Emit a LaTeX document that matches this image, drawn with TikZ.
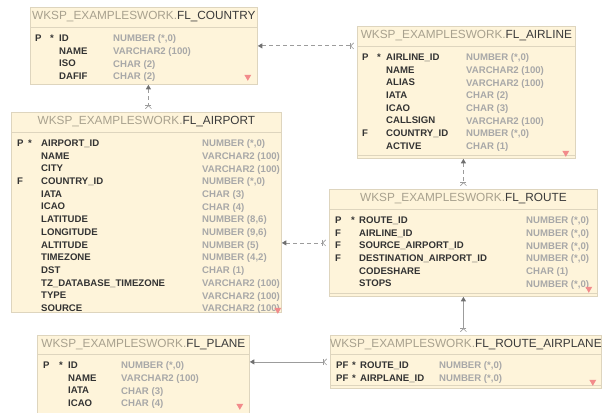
\documentclass[tikz,border=0pt]{standalone}
\usepackage{fontspec}
\setmainfont{Liberation Sans}
\usetikzlibrary{arrows.meta, shapes.geometric}

\definecolor{boxfill}{HTML}{FEF4DA}
\definecolor{boxline}{HTML}{DED5BE}
\definecolor{prefixgray}{HTML}{A8A18E}
\definecolor{titledark}{HTML}{3A3A3A}
\definecolor{namedark}{HTML}{333333}
\definecolor{typegray}{HTML}{A8A8A8}
\definecolor{markred}{HTML}{F28B8B}
\definecolor{linkgray}{HTML}{9C9C9C}
\definecolor{tipgray}{HTML}{707070}

\newcommand{\wksp}{\textcolor{prefixgray}{WKSP\_EXAMPLESWORK.}}

\begin{document}
\begin{tikzpicture}[
    x=1pt, y=-1pt,
    entity/.style={
      draw=boxline,
      fill=boxfill,
      line width=0.8pt,
      anchor=north west,
      inner sep=0pt
    },
    sep/.style={draw=boxline, line width=0.8pt},
    title/.style={font=\fontsize{11.8}{14}\selectfont, text=titledark, inner sep=0pt},
    colname/.style={
      font=\bfseries\fontsize{9.6}{12.7}\selectfont,
      text=namedark,
      align=left,
      anchor=north west,
      inner sep=0pt
    },
    coltype/.style={colname, text=typegray},
    keyname/.style={font=\bfseries\fontsize{9.6}{12.7}\selectfont, text=namedark, anchor=base west, inner sep=0pt},
    marker/.style={regular polygon, regular polygon sides=3, shape border rotate=180,
      fill=markred, inner sep=0pt, minimum size=8pt},
    crowfoot/.tip={Bar[width=6pt,line width=0.6pt,sep=0pt] Straight Barb[reversed,length=3pt,width=6pt,line width=0.6pt]},
    fk/.style={draw=linkgray, line width=0.8pt, dash pattern=on 4pt off 3pt,
      {Triangle[length=4.5pt,width=5pt,color=tipgray]}-{crowfoot}, shorten >=3pt},
    link/.style={fk, solid}
  ]
    \useasboundingbox (0,0) rectangle (612,412);

    % FL_COUNTRY
    \node[entity, minimum width=227pt, minimum height=77pt] (country) at (30,7) {};
    \draw[sep] ([yshift=-20pt]country.north west) -- ([yshift=-20pt]country.north east);
    \node[title] (countryhead) at ([yshift=-10pt]country.north) {\wksp FL\_COUNTRY};
    \node[keyname] (countrykp) at ([xshift=5pt,yshift=-34.5pt]country.north west) {P};
    \node[keyname] (countryks) at ([xshift=20pt,yshift=-34.5pt]country.north west) {*};
    \node[colname] (countrynames) at ([xshift=29pt,yshift=-27.5pt]country.north west) {ID\\NAME\\ISO\\DAFIF};
    \node[coltype] (countrytypes) at ([xshift=83pt,yshift=-27.5pt]country.north west) {NUMBER (*,0)\\VARCHAR2 (100)\\CHAR (2)\\CHAR (2)};
    \node[marker] (countrymark) at ([xshift=-10pt,yshift=8pt]country.south east) {};

    % FL_AIRLINE
    \node[entity, minimum width=218pt, minimum height=132pt] (airline) at (357,26) {};
    \draw[sep] ([yshift=-20pt]airline.north west) -- ([yshift=-20pt]airline.north east);
    \draw[sep] ([yshift=3pt]airline.south west) -- ([yshift=3pt]airline.south east);
    \node[title] (airlinehead) at ([yshift=-10pt]airline.north) {\wksp FL\_AIRLINE};
    \node[keyname] (airlinekp) at ([xshift=5pt,yshift=-34.5pt]airline.north west) {P};
    \node[keyname] (airlineks) at ([xshift=20pt,yshift=-34.5pt]airline.north west) {*};
    \node[keyname] (airlinekf) at ([xshift=5pt,yshift=-110.7pt]airline.north west) {F};
    \node[colname] (airlinenames) at ([xshift=29pt,yshift=-27.5pt]airline.north west)
      {AIRLINE\_ID\\NAME\\ALIAS\\IATA\\ICAO\\CALLSIGN\\COUNTRY\_ID\\ACTIVE};
    \node[coltype] (airlinetypes) at ([xshift=109pt,yshift=-27.5pt]airline.north west)
      {NUMBER (*,0)\\VARCHAR2 (100)\\VARCHAR2 (100)\\CHAR (2)\\CHAR (3)\\VARCHAR2 (100)\\NUMBER (*,0)\\CHAR (1)};
    \node[marker] (airlinemark) at ([xshift=-10pt,yshift=6pt]airline.south east) {};

    % FL_AIRPORT
    \node[entity, minimum width=270pt, minimum height=200pt] (airport) at (11,112) {};
    \draw[sep] ([yshift=-20pt]airport.north west) -- ([yshift=-20pt]airport.north east);
    \node[title] (airporthead) at ([yshift=-10pt]airport.north) {\wksp FL\_AIRPORT};
    \node[keyname] (airportkp) at ([xshift=6pt,yshift=-34.5pt]airport.north west) {P};
    \node[keyname] (airportks) at ([xshift=17pt,yshift=-34.5pt]airport.north west) {*};
    \node[keyname] (airportkf) at ([xshift=6pt,yshift=-72.6pt]airport.north west) {F};
    \node[colname] (airportnames) at ([xshift=30pt,yshift=-27.5pt]airport.north west)
      {AIRPORT\_ID\\NAME\\CITY\\COUNTRY\_ID\\IATA\\ICAO\\LATITUDE\\LONGITUDE\\ALTITUDE\\TIMEZONE\\DST\\TZ\_DATABASE\_TIMEZONE\\TYPE\\SOURCE};
    \node[coltype] (airporttypes) at ([xshift=191pt,yshift=-27.5pt]airport.north west)
      {NUMBER (*,0)\\VARCHAR2 (100)\\VARCHAR2 (100)\\NUMBER (*,0)\\CHAR (3)\\CHAR (4)\\NUMBER (8,6)\\NUMBER (9,6)\\NUMBER (5)\\NUMBER (4,2)\\CHAR (1)\\VARCHAR2 (100)\\VARCHAR2 (100)\\VARCHAR2 (100)};
    \node[marker] (airportmark) at ([xshift=-4pt,yshift=3pt]airport.south east) {};

    % FL_ROUTE
    \node[entity, minimum width=268pt, minimum height=107pt] (route) at (329,189) {};
    \draw[sep] ([yshift=-20pt]route.north west) -- ([yshift=-20pt]route.north east);
    \draw[sep] ([yshift=3pt]route.south west) -- ([yshift=3pt]route.south east);
    \node[title] (routehead) at ([yshift=-10pt]route.north) {\wksp FL\_ROUTE};
    \node[keyname] (routekp) at ([xshift=6pt,yshift=-34.5pt]route.north west) {P};
    \node[keyname] (routeks) at ([xshift=22pt,yshift=-34.5pt]route.north west) {*};
    \node[keyname] (routekfa) at ([xshift=6pt,yshift=-47.2pt]route.north west) {F};
    \node[keyname] (routekfb) at ([xshift=6pt,yshift=-59.9pt]route.north west) {F};
    \node[keyname] (routekfc) at ([xshift=6pt,yshift=-72.6pt]route.north west) {F};
    \node[colname] (routenames) at ([xshift=30pt,yshift=-27.5pt]route.north west)
      {ROUTE\_ID\\AIRLINE\_ID\\SOURCE\_AIRPORT\_ID\\DESTINATION\_AIRPORT\_ID\\CODESHARE\\STOPS};
    \node[coltype] (routetypes) at ([xshift=197pt,yshift=-27.5pt]route.north west)
      {NUMBER (*,0)\\NUMBER (*,0)\\NUMBER (*,0)\\NUMBER (*,0)\\CHAR (1)\\NUMBER (*,0)};
    \node[marker] (routemark) at ([xshift=-9pt,yshift=8pt]route.south east) {};

    % FL_PLANE
    \node[entity, minimum width=212pt, minimum height=80pt] (plane) at (37,335) {};
    \draw[sep] ([yshift=-19pt]plane.north west) -- ([yshift=-19pt]plane.north east);
    \node[title] (planehead) at ([yshift=-9.5pt]plane.north) {\wksp FL\_PLANE};
    \node[keyname] (planekp) at ([xshift=6pt,yshift=-33.5pt]plane.north west) {P};
    \node[keyname] (planeks) at ([xshift=22pt,yshift=-33.5pt]plane.north west) {*};
    \node[colname] (planenames) at ([xshift=31pt,yshift=-26.5pt]plane.north west) {ID\\NAME\\IATA\\ICAO};
    \node[coltype] (planetypes) at ([xshift=84pt,yshift=-26.5pt]plane.north west) {NUMBER (*,0)\\VARCHAR2 (100)\\CHAR (3)\\CHAR (4)};
    \node[marker] (planemark) at ([xshift=-10pt,yshift=10pt]plane.south east) {};

    % FL_ROUTE_AIRPLANE
    \node[entity, minimum width=271pt, minimum height=53pt] (ra) at (330,335) {};
    \draw[sep] ([yshift=-19pt]ra.north west) -- ([yshift=-19pt]ra.north east);
    \draw[sep] ([yshift=3pt]ra.south west) -- ([yshift=3pt]ra.south east);
    \node[title] (rahead) at ([yshift=-9.5pt]ra.north) {\wksp FL\_ROUTE\_AIRPLANE};
    \node[keyname] (rakpa) at ([xshift=6pt,yshift=-33.5pt]ra.north west) {PF};
    \node[keyname] (raksa) at ([xshift=22pt,yshift=-33.5pt]ra.north west) {*};
    \node[keyname] (rakpb) at ([xshift=6pt,yshift=-46.2pt]ra.north west) {PF};
    \node[keyname] (raksb) at ([xshift=22pt,yshift=-46.2pt]ra.north west) {*};
    \node[colname] (ranames) at ([xshift=30pt,yshift=-26.5pt]ra.north west) {ROUTE\_ID\\AIRPLANE\_ID};
    \node[coltype] (ratypes) at ([xshift=109pt,yshift=-26.5pt]ra.north west) {NUMBER (*,0)\\NUMBER (*,0)};
    \node[marker] (ramark) at ([xshift=-9pt,yshift=7pt]ra.south east) {};

    % relations
    \coordinate (cajoin) at ([xshift=2pt]airport.north);
    \draw[fk] (country.east) -- (airline.west |- country.east);
    \draw[fk] (cajoin |- country.south) -- (cajoin);
    \draw[fk] (route.north |- airline.south) -- (route.north);
    \draw[fk] (airport.east |- route.west) -- (route.west);
    \draw[link] (route.south) -- (route.south |- ra.north);
    \draw[link] (plane.east |- ra.west) -- (ra.west);
  \end{tikzpicture}
\end{document}
